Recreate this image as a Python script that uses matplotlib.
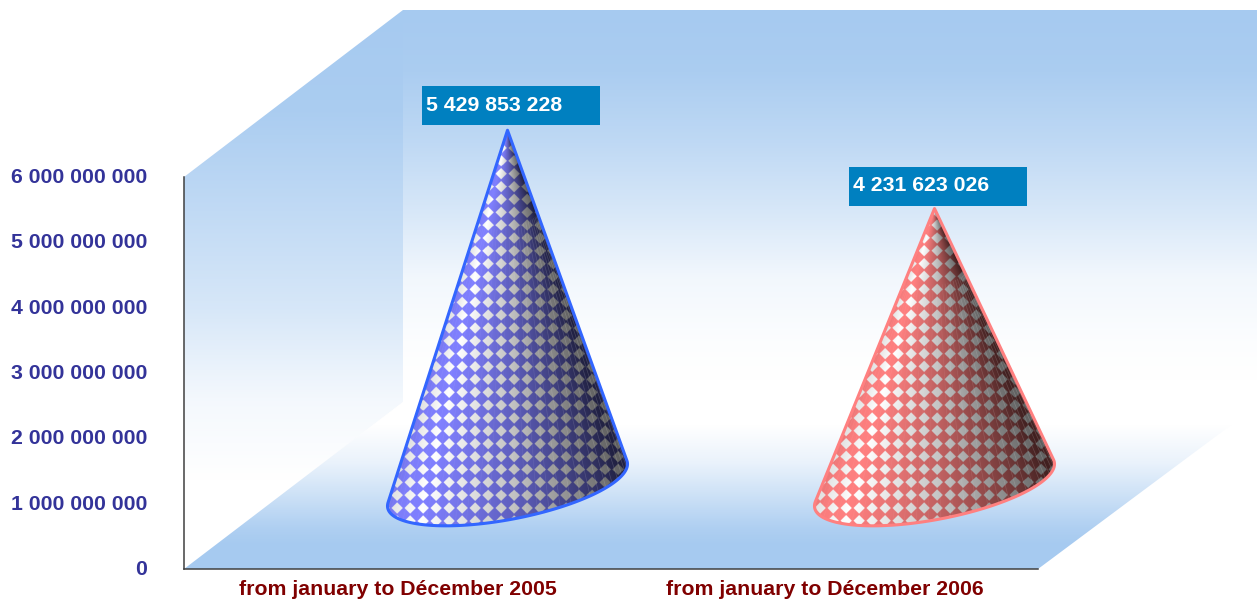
import numpy as np
import matplotlib
matplotlib.use("Agg")
import matplotlib.pyplot as plt
from matplotlib.patches import Polygon, Rectangle
from matplotlib.ticker import FuncFormatter
from matplotlib.transforms import ScaledTranslation

# ---- data ----
categories = ["from january to Décember 2005", "from january to Décember 2006"]
values = [5429853228, 4231623026]
y_ticks = [0, 1000000000, 2000000000, 3000000000, 4000000000, 5000000000, 6000000000]

# ---- style ----
W, H = 1257, 602
BLUE = np.array([166, 202, 240]) / 255
DEPTH = (110, -84)                 # half of the 3D depth, in pixels
BASE_A = (120, -21)                # base ellipse semi axes, in pixels
BASE_B = (0, 35)
fills = [(128/255, 128/255, 1.0), (1.0, 128/255, 128/255)]
edges = ["#3366ff", "#ff8080"]
phases = [(436, 405), (872, 392)]
label_gap = [44, 42]
PERIOD = (13.0, 12.86)
FONT = ["Liberation Sans", "DejaVu Sans"]

def fmt(v):
    return f"{int(v):,}".replace(",", " ")

fig = plt.figure(figsize=(W / 100, H / 100), dpi=100, facecolor="white")

# pixel-space layers: walls below, cones above the axes
bg = fig.add_axes([0, 0, 1, 1], zorder=0)
top = fig.add_axes([0, 0, 1, 1], zorder=2)
for a in (bg, top):
    a.set_xlim(0, W); a.set_ylim(H, 0); a.axis("off"); a.patch.set_alpha(0)

# chart axes
ax = fig.add_axes([184 / W, (H - 569) / H, 854 / W, 392 / H], zorder=1)
ax.patch.set_alpha(0)
ax.set_xlim(-0.5, 1.5)
ax.set_ylim(0, 6e9)
ax.set_xticks(range(len(categories)), categories)
ax.set_yticks(y_ticks)
ax.yaxis.set_major_formatter(FuncFormatter(lambda v, p: fmt(v)))
ax.tick_params(axis="y", length=0, pad=26.5, labelsize=15.3, labelcolor="#333399")
ax.tick_params(axis="x", length=0, pad=8.2, labelsize=15.3, labelcolor="#800000")
for lab in ax.get_xticklabels() + ax.get_yticklabels():
    lab.set_fontfamily(FONT); lab.set_fontweight("bold")
for s in ("top", "right"):
    ax.spines[s].set_visible(False)
for s in ("left", "bottom"):
    ax.spines[s].set_color("#404040"); ax.spines[s].set_linewidth(1.1)

# walls and floor: whiteness stops (pixel row, fraction of white)
def gradient(poly, rows, white):
    yy = np.arange(H, dtype=float) + .5
    t = np.interp(yy, rows, white)[:, None, None]
    img = np.repeat(BLUE[None, None, :] * (1 - t) + t, W, axis=1)
    im = bg.imshow(img, extent=(0, W, H, 0), aspect="auto", interpolation="nearest")
    p = Polygon(poly, closed=True, transform=bg.transData, fc="none", ec="none")
    bg.add_patch(p)
    im.set_clip_path(p)

gradient([(403, 10), (1262, 10), (1262, 402), (403, 402)],
         [10, 70, 140, 210, 277, 343, 380], [0, .05, .27, .55, .85, .97, 1])
gradient([(184, 177), (403, 10), (403, 402), (184, 569)],
         [10, 110, 210, 310, 377, 402, 480], [0, .05, .3, .55, .8, .88, 1])
gradient([(184, 569), (1038, 569), (1262, 402), (403, 402)],
         [425, 462, 495, 528, 545], [1, .77, .44, .1, 0])
bg.set_xlim(0, W); bg.set_ylim(H, 0)

fig.canvas.draw()
up = ScaledTranslation(0, 1.5 / 100, fig.dpi_scale_trans)
for lab in ax.get_yticklabels():
    lab.set_transform(lab.get_transform() + up)

def to_px(x, y):
    px, py = ax.transData.transform((x, y))
    return px + DEPTH[0], H - py + DEPTH[1]

# cones
for i, v in enumerate(values):
    ax_, ay_ = to_px(i, v)
    cx, cy = to_px(i, 0)
    a = np.array(BASE_A, float); b = np.array(BASE_B, float)
    # tangent points of the silhouette on the base ellipse
    M = np.column_stack([a, b])
    u0, v0 = np.linalg.solve(M, [ax_ - cx, ay_ - cy])
    r2 = u0**2 + v0**2
    tm = np.arctan2(v0, u0)
    dt = np.arccos(1 / np.sqrt(r2))
    t1, t2 = tm + dt, tm - dt + 2 * np.pi
    if np.cos(t1) < 0:
        t1, t2 = t2 - 2 * np.pi, t1
    ts = np.linspace(t1, t2, 200)
    ex = cx + a[0] * np.cos(ts) + b[0] * np.sin(ts)
    ey = cy + a[1] * np.cos(ts) + b[1] * np.sin(ts)
    outline = np.vstack([[ax_, ay_], np.column_stack([ex, ey])])

    # texture
    x0, x1 = int(ex.min()) - 3, int(ex.max()) + 4
    y0, y1 = int(ay_) - 3, int(ey.max()) + 4
    SS = 3
    X, Y = np.meshgrid(np.arange(x0, x1, 1 / SS), np.arange(y0, y1, 1 / SS))
    dx = ((X - phases[i][0]) / PERIOD[0] + .5) % 1 - .5
    dy = ((Y - phases[i][1]) / PERIOD[1] + .5) % 1 - .5
    checker = (np.abs(dx) + np.abs(dy)) < 0.44
    sl = (ex[-1] - ax_) / (ey[-1] - ay_)
    sr = (ex[0] - ax_) / (ey[0] - ay_)
    s = (X - ax_) / np.maximum(Y - ay_, 1e-3)
    f = np.clip((s - sl) / (sr - sl), 0, 1)
    shade = np.interp(f, [0, .05, .14, .3, .5, .7, .85, .96, 1],
                         [.92, .98, 1.0, .9, .74, .54, .38, .25, .3])
    col = np.array(fills[i])
    base = col[None, None, :] * shade[..., None]
    white = np.where(f < .14, np.interp(f, [0, .14], [.88, 1]),
                     np.interp(f, [.14, .5, .8, 1], [1, .76, .5, .36]))
    img = np.where(checker[..., None], white[..., None] * np.ones(3), base)
    im = top.imshow(img, extent=(x0, x1, y1, y0), aspect="auto", interpolation="antialiased", zorder=2)
    clip = Polygon(outline, closed=True, transform=top.transData, fc="none", ec="none")
    top.add_patch(clip)
    im.set_clip_path(clip)

    # faint radial facets, stronger on the dark side
    for u in np.linspace(t1, t2, 34)[1:-1]:
        px = cx + a[0] * np.cos(u) + b[0] * np.sin(u)
        py = cy + a[1] * np.cos(u) + b[1] * np.sin(u)
        ln, = top.plot([ax_ + .25 * (px - ax_), px], [ay_ + .25 * (py - ay_), py], color="white", lw=0.5,
                       alpha=0.05 + .12 * max(np.cos(u), 0), zorder=3)
        ln.set_clip_path(clip)

    top.add_patch(Polygon(outline, closed=True, fc="none", ec=edges[i], lw=2.2,
                          joinstyle="round", zorder=4))

    # value label
    top.add_patch(Rectangle((ax_ - 85.5, ay_ - label_gap[i]), 178, 39, fc="#0080c0", ec="none", zorder=5))
    top.text(ax_ - 81.5, ay_ - label_gap[i] + 19, fmt(v), color="white", fontsize=15.3, fontweight="bold",
             family=FONT, va="center", ha="left", zorder=6)

top.set_xlim(0, W); top.set_ylim(H, 0)
fig.savefig("out.png", dpi=100, facecolor="white")
